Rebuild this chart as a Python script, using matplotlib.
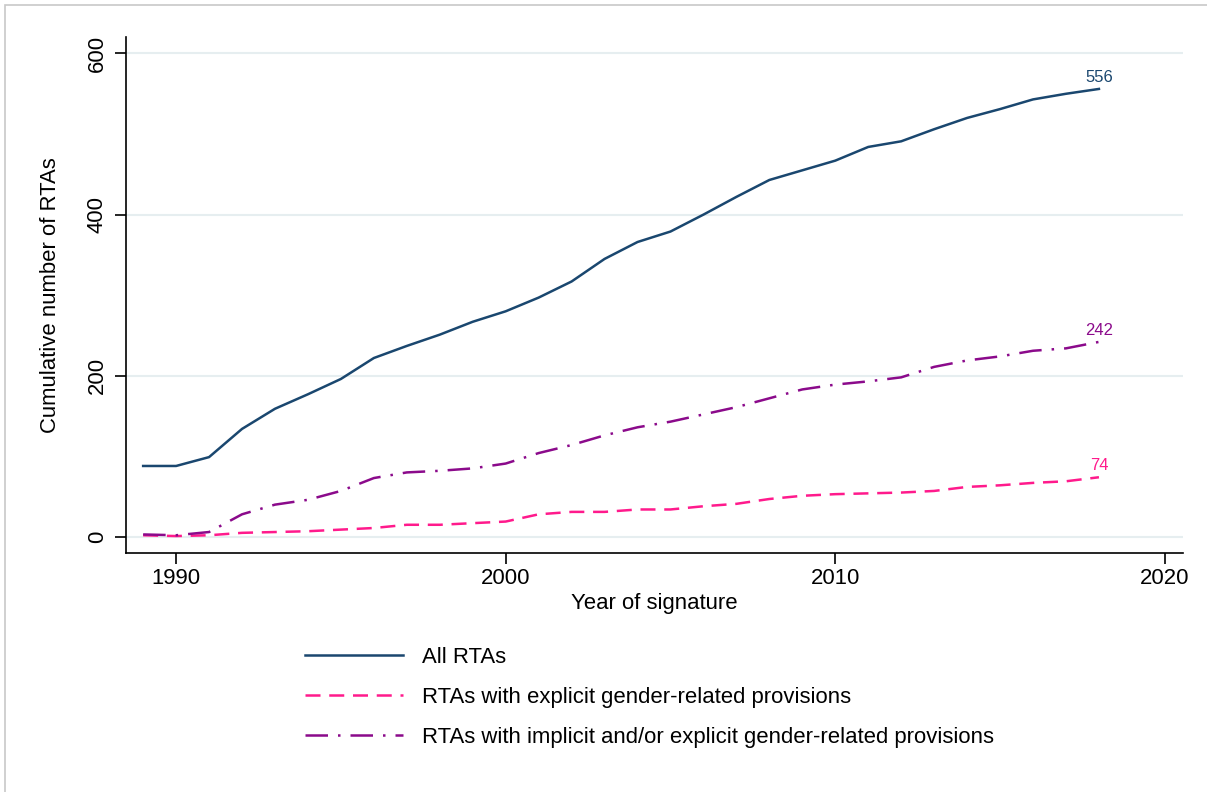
import matplotlib
matplotlib.use('Agg')
import matplotlib.pyplot as plt
from matplotlib.patches import Rectangle

plt.rcParams['font.family'] = ['Liberation Sans', 'DejaVu Sans']

# 数据：签署年份与累计RTA数量
years = list(range(1989, 2019))
all_rtas = [88, 88, 99, 134, 159, 177, 196, 222, 237, 251,
            267, 280, 297, 317, 345, 366, 379, 400, 422, 443,
            455, 467, 484, 491, 506, 520, 531, 543, 550, 556]
explicit = [2, 1, 2, 5, 6, 7, 9, 11, 15, 15,
            17, 19, 28, 31, 31, 34, 34, 38, 41, 47,
            51, 53, 54, 55, 57, 62, 64, 67, 69, 74]
implicit_or_explicit = [3, 2, 6, 28, 40, 46, 57, 73, 80, 82,
                        85, 91, 104, 114, 126, 136, 143, 152, 161, 172,
                        183, 189, 193, 198, 211, 219, 224, 231, 234, 242]

labels = ['All RTAs',
          'RTAs with explicit gender-related provisions',
          'RTAs with implicit and/or explicit gender-related provisions']
navy = '#1a476f'
pink = '#ff1a8c'
purple = '#8b0a8b'
fs = 15.9

fig = plt.figure(figsize=(12.07, 7.92), dpi=100)
ax = fig.add_axes([0.1044, 0.3018, 0.8757, 0.651])

ax.plot(years, all_rtas, color=navy, lw=1.8, label=labels[0])
ax.plot(years, explicit, color=pink, lw=1.8, dashes=(6, 3.5), label=labels[1])
ax.plot(years, implicit_or_explicit, color=purple, lw=1.8,
        dashes=(9, 4, 1, 4), label=labels[2])

# 末端数值标注
for series, col in [(all_rtas, navy), (implicit_or_explicit, purple), (explicit, pink)]:
    ax.annotate(str(series[-1]), (years[-1], series[-1]), xytext=(0, 3),
                textcoords='offset points', ha='center', va='bottom',
                color=col, fontsize=12)

ax.set_xlim(1988.48, 2020.55)
ax.set_ylim(-20, 620)
ax.set_xticks([1990, 2000, 2010, 2020])
ax.set_yticks([0, 200, 400, 600])
ax.yaxis.grid(True, color='#e6eef0', lw=1.5)
ax.set_axisbelow(True)
for s in ['top', 'right']:
    ax.spines[s].set_visible(False)
for s in ['left', 'bottom']:
    ax.spines[s].set_linewidth(1.2)
ax.tick_params(axis='both', labelsize=fs, length=8, width=1.2, direction='out')
ax.tick_params(axis='y', pad=5)
ax.tick_params(axis='x', pad=3)
plt.setp(ax.get_yticklabels(), rotation=90, va='center')
ax.set_xlabel('Year of signature', fontsize=fs, labelpad=3)
ax.set_ylabel('Cumulative number of RTAs', fontsize=fs, labelpad=19)

fig.legend(loc='upper left', bbox_to_anchor=(0.2527, 0.183), frameon=False,
           fontsize=fs, handlelength=4.45, handletextpad=0.85,
           labelspacing=0.86, borderpad=0, borderaxespad=0)

# 外框
fig.patches.append(Rectangle((0.004, -0.01), 1.0, 1.004, transform=fig.transFigure,
                             fill=False, edgecolor='#c8c8c8', lw=1.2))

fig.savefig('out.png', dpi=100)
